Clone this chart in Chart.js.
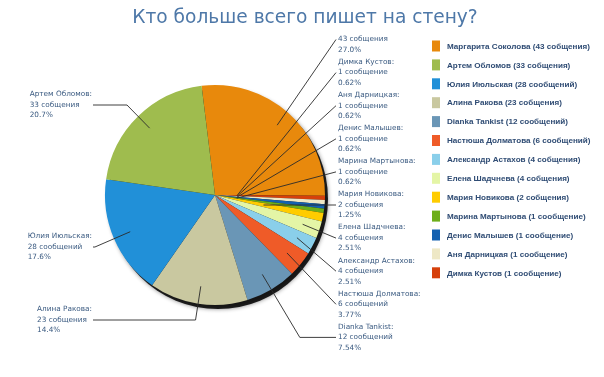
<!DOCTYPE html>
<html><head><meta charset="utf-8">
<script src="https://cdn.jsdelivr.net/npm/chart.js@4"></script>
<style>html,body{margin:0;padding:0;background:#fff}#wrap{width:604px;height:377px;position:relative}</style>
</head><body><div id="wrap"><canvas id="c" width="604" height="377"></canvas></div>
<script>
// Slices in clockwise drawing order
const names = ["Маргарита Соколова","Димка Кустов","Аня Дарницкая","Денис Малышев","Марина Мартынова","Мария Новикова","Елена Шадчнева","Александр Астахов","Настюша Долматова","Dianka Tankist","Алина Ракова","Юлия Июльская","Артем Обломов"];
const counts = [43,1,1,1,1,2,4,4,6,12,23,28,33];
const colors = ["#E8890C","#D6400C","#EEE8C6","#1461B0","#6DAE1A","#FFCC00","#E4F5A6","#8ACFEA","#EF5B28","#6A96B6","#C9C8A0","#2190D8","#9FBC4E"];
// legend order (descending)
const legendOrder = [0,12,11,10,9,8,7,6,5,4,3,2,1];
const titleText = "Кто больше всего пишет на стену?";

function word(n){
  const a = n % 10, b = n % 100;
  if (a === 1 && b !== 11) return "сообщение";
  if (a >= 2 && a <= 4 && (b < 12 || b > 14)) return "собщения";
  return "сообщений";
}
function pct(v, total){
  const p = v / total * 100;
  const d = p >= 10 ? 1 : 2;
  const m = Math.pow(10, d);
  return (Math.floor(p * m + 1e-9) / m).toFixed(d) + "%";
}

// label layout (styles)
const anchorFrac = [0.85,0.2,0.2,0.2,0.2,0.45,0.84,0.84,0.84,0.84,0.84,0.84,0.85];
const LABEL_FONT = "7.3px 'DejaVu Sans'";
const LABEL_COLOR = "#3A5A80";
const LINE_H = 10.5;

const labelPlugin = {
  id: 'pieLabels',
  beforeDatasetsDraw(chart){
    const arc = chart.getDatasetMeta(0).data[0];
    const ctx = chart.ctx;
    ctx.save();
    ctx.beginPath();
    ctx.arc(arc.x + 3, arc.y + 4, arc.outerRadius, 0, Math.PI*2);
    ctx.fillStyle = 'rgba(0,0,0,0.85)';
    ctx.shadowColor = 'rgba(0,0,0,0.55)';
    ctx.shadowBlur = 4;
    ctx.fill();
    ctx.restore();
  },
  afterDatasetsDraw(chart){
    const ctx = chart.ctx;
    const meta = chart.getDatasetMeta(0);
    const total = counts.reduce((a,b)=>a+b,0);
    ctx.save();
    ctx.font = LABEL_FONT;
    ctx.textBaseline = 'middle';
    let slot = 0;
    meta.data.forEach((el, i) => {
      const mid = (el.startAngle + el.endAngle) / 2;
      const dx = Math.cos(mid), dy = Math.sin(mid);
      const ax = el.x + dx * el.outerRadius * anchorFrac[i];
      const ay = el.y + dy * el.outerRadius * anchorFrac[i];
      const right = dx >= 0 || i < 10;
      let ly, lx, tx;
      const name = names[i] + ":";
      const l2 = counts[i] + " " + word(counts[i]);
      const l3 = pct(counts[i], total);
      if (right) {
        ly = 39.5 + 33.1 * slot; slot++;
        lx = 336; tx = 338;
      } else {
        ly = i === 10 ? 320 : (i === 11 ? 247 : 105);
        lx = 93;
        tx = 92 - ctx.measureText(name).width;
      }
      ctx.strokeStyle = '#2a2a2a';
      ctx.lineWidth = 0.9;
      ctx.beginPath();
      ctx.moveTo(ax, ay);
      if (Math.abs(dy) > 1e-6) {
        const t = (ly - ay) / dy;
        const ex = ax + dx * t;
        if (t > 0 && (right ? ex < lx : ex > lx)) ctx.lineTo(ex, ly);
      }
      ctx.lineTo(lx, ly);
      ctx.stroke();
      ctx.fillStyle = LABEL_COLOR;
      ctx.textAlign = 'left';
      if (i !== 0) ctx.fillText(name, tx, ly - LINE_H);
      ctx.fillText(l2, tx, ly);
      ctx.fillText(l3, tx, ly + LINE_H);
    });
    ctx.restore();
  },
  afterDraw(chart){
    const ctx = chart.ctx;
    ctx.save();
    // title
    ctx.font = "18.6px 'DejaVu Sans'";
    ctx.fillStyle = '#4E78A8';
    ctx.textAlign = 'center';
    ctx.textBaseline = 'alphabetic';
    ctx.fillText(titleText, 305, 23);
    // legend
    ctx.font = "bold 8.1px 'Liberation Sans'";
    ctx.textBaseline = 'middle';
    ctx.textAlign = 'left';
    legendOrder.forEach((idx, k) => {
      const y = 46 + 18.9 * k;
      ctx.fillStyle = colors[idx];
      ctx.fillRect(432, y - 5.5, 8, 11);
      ctx.fillStyle = '#2F4C74';
      ctx.fillText(names[idx] + " (" + counts[idx] + " " + word(counts[idx]) + ")", 447, y + 0.5);
    });
    ctx.restore();
  }
};

new Chart(document.getElementById('c'), {
  type: 'pie',
  data: { labels: names, datasets: [{ data: counts, backgroundColor: colors, borderWidth: 0 }] },
  options: {
    responsive: false,
    animation: false,
    rotation: -7,
    layout: { padding: { left: 105, right: 279, top: 85, bottom: 72 } },
    plugins: {
      legend: { display: false },
      tooltip: { enabled: false },
      title: { display: false }
    }
  },
  plugins: [labelPlugin]
});
</script></body></html>
